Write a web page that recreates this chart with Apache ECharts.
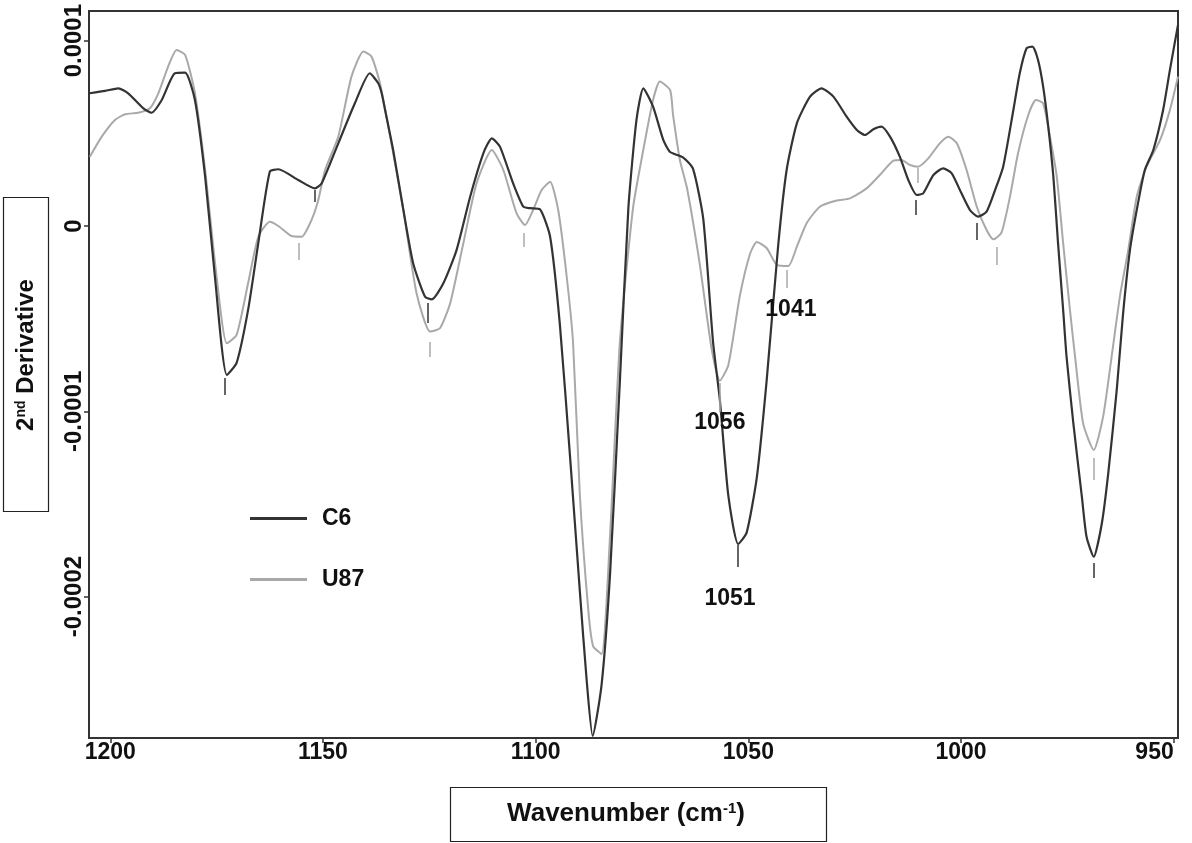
<!DOCTYPE html>
<html>
<head>
<meta charset="utf-8">
<title>2nd derivative spectra C6 / U87</title>
<script src="https://cdn.jsdelivr.net/npm/echarts@6/dist/echarts.min.js"></script>
<style>
  html, body { margin: 0; padding: 0; background: #fff; }
  #container { width: 1192px; height: 843px; }
</style>
</head>
<body>
<div id="container"></div>
<script>
// values are in units of 1e-4 (2nd derivative), wavenumber in cm-1

const c6Wave = [
  1204.8, 1201.2, 1198.1, 1195.8, 1192.2, 1190.3, 1187.9, 1184.8, 1182.4, 1180.1,
  1177.7, 1175.4, 1172.6, 1170.3, 1167.6, 1165.2, 1162.5, 1160.5, 1155.8, 1151.9,
  1150.3, 1146.4, 1142.5, 1139.0, 1137.0, 1136.2, 1135.4, 1133.5, 1131.1, 1128.8,
  1126.0, 1124.4, 1121.7, 1118.6, 1115.4, 1112.3, 1110.3, 1108.4, 1105.3, 1102.9,
  1101.3, 1099.0, 1096.6, 1094.3, 1091.9, 1089.6, 1088.0, 1086.6, 1084.5, 1082.5,
  1080.2, 1078.2, 1076.3, 1074.7, 1072.4, 1070.0, 1068.4, 1065.3, 1063.0, 1060.6,
  1058.3, 1056.7, 1054.7, 1052.4, 1050.4, 1048.0, 1045.7, 1043.0, 1041.0, 1038.6,
  1035.5, 1032.8, 1030.0, 1026.9, 1024.5, 1022.6, 1020.6, 1018.7, 1016.7, 1014.4,
  1012.4, 1010.4, 1008.9, 1006.5, 1004.2, 1002.2, 999.9, 997.9, 996.0, 994.0,
  992.0, 990.1, 987.7, 986.2, 984.6, 983.2, 981.9, 980.7, 979.5, 978.3,
  977.2, 976.0, 975.2, 973.6, 971.6, 970.5, 968.8, 966.9, 965.4, 963.4,
  961.9, 960.3, 958.7, 956.8, 954.8, 952.5, 950.9, 949.0
];
const c6Value = [
  0.716, 0.729, 0.743, 0.716, 0.635, 0.611, 0.680, 0.824, 0.827, 0.680,
  0.266, -0.274, -0.804, -0.739, -0.453, -0.092, 0.293, 0.306, 0.248, 0.203,
  0.230, 0.446, 0.662, 0.824, 0.770, 0.716, 0.626, 0.410, 0.086, -0.201,
  -0.382, -0.396, -0.309, -0.130, 0.158, 0.392, 0.473, 0.428, 0.230, 0.104,
  0.096, 0.090, -0.058, -0.534, -1.250, -1.975, -2.454, -2.752, -2.475, -1.873,
  -0.835, 0.099, 0.572, 0.743, 0.644, 0.464, 0.399, 0.369, 0.308, 0.038,
  -0.626, -0.939, -1.457, -1.716, -1.655, -1.355, -0.835, -0.108, 0.302, 0.554,
  0.698, 0.743, 0.698, 0.590, 0.518, 0.491, 0.522, 0.536, 0.482, 0.374,
  0.248, 0.167, 0.176, 0.275, 0.311, 0.284, 0.176, 0.086, 0.050, 0.077,
  0.194, 0.320, 0.626, 0.824, 0.959, 0.968, 0.896, 0.752, 0.536, 0.266,
  -0.093, -0.453, -0.705, -1.065, -1.461, -1.677, -1.785, -1.604, -1.335, -0.885,
  -0.470, -0.130, 0.086, 0.302, 0.410, 0.626, 0.842, 1.085
];

const u87Wave = [
  1204.8, 1202.0, 1198.9, 1196.5, 1193.4, 1190.7, 1188.7, 1186.4, 1184.4, 1182.4,
  1180.1, 1177.7, 1175.0, 1172.6, 1170.3, 1167.6, 1165.2, 1162.5, 1160.5, 1157.4,
  1155.0, 1152.7, 1151.1, 1149.5, 1146.4, 1143.3, 1140.5, 1138.6, 1136.6, 1134.2,
  1131.1, 1128.0, 1124.8, 1122.5, 1120.1, 1117.0, 1113.9, 1110.3, 1107.6, 1104.5,
  1102.5, 1100.6, 1098.6, 1096.6, 1094.7, 1092.7, 1091.2, 1089.6, 1087.6, 1086.5,
  1084.5, 1082.5, 1080.2, 1077.1, 1074.7, 1072.4, 1070.8, 1068.4, 1067.7, 1066.1,
  1064.4, 1061.4, 1058.6, 1056.7, 1054.7, 1052.0, 1049.6, 1048.0, 1045.7, 1043.3,
  1040.6, 1038.6, 1036.3, 1033.2, 1029.2, 1026.1, 1022.2, 1019.1, 1015.9, 1014.0,
  1012.0, 1010.1, 1007.7, 1005.0, 1003.0, 1001.0, 998.7, 996.3, 994.0, 992.4,
  990.5, 988.5, 986.6, 984.2, 982.4, 980.7, 979.1, 977.5, 976.0, 974.4,
  973.2, 971.3, 968.8, 966.6, 964.6, 962.6, 960.7, 958.7, 956.4, 953.2,
  950.9, 949.0
];
const u87Value = [
  0.374, 0.482, 0.572, 0.603, 0.611, 0.635, 0.716, 0.860, 0.950, 0.923,
  0.716, 0.302, -0.274, -0.633, -0.588, -0.309, -0.058, 0.023, 0.000, -0.054,
  -0.058, 0.032, 0.140, 0.302, 0.482, 0.806, 0.941, 0.914, 0.770, 0.482,
  0.086, -0.363, -0.570, -0.552, -0.417, -0.093, 0.230, 0.410, 0.302, 0.069,
  0.005, 0.086, 0.194, 0.239, 0.086, -0.274, -0.633, -1.457, -2.080, -2.267,
  -2.310, -1.665, -0.626, 0.099, 0.410, 0.680, 0.779, 0.734, 0.599, 0.356,
  0.202, -0.210, -0.669, -0.835, -0.750, -0.378, -0.150, -0.086, -0.119, -0.210,
  -0.216, -0.112, 0.015, 0.104, 0.137, 0.149, 0.203, 0.275, 0.352, 0.356,
  0.329, 0.320, 0.365, 0.446, 0.482, 0.446, 0.302, 0.104, -0.022, -0.072,
  -0.036, 0.158, 0.392, 0.599, 0.680, 0.662, 0.482, 0.266, -0.093, -0.453,
  -0.705, -1.065, -1.209, -1.029, -0.705, -0.372, -0.130, 0.158, 0.320, 0.464,
  0.626, 0.806
];

// short vertical peak markers (wavenumber, top, bottom)
const c6MarkWave   = [1173.0, 1151.9, 1125.3, 1052.4, 1010.6, 996.3, 968.8];
const c6MarkTop    = [-0.820, 0.194, -0.416, -1.722, 0.140, 0.016, -1.819];
const c6MarkBottom = [-0.912, 0.130, -0.523, -1.840, 0.059, -0.076, -1.900];

const u87MarkWave   = [1155.6, 1124.8, 1102.7, 1056.7, 1040.9, 1010.1, 991.6, 968.8];
const u87MarkTop    = [-0.092, -0.626, -0.038, -0.847, -0.237, 0.313, -0.113, -1.252];
const u87MarkBottom = [-0.183, -0.707, -0.113, -1.004, -0.335, 0.232, -0.210, -1.371];

// peak annotations
const peakText  = ['1056', '1041', '1051'];
const peakWave  = [1056.7, 1040.0, 1054.3];
const peakValue = [-1.06, -0.45, -2.01];

const xTicks = [950, 1000, 1050, 1100, 1150, 1200];
const yTicks = [-2, -1, 0, 1];

const darkColor  = '#333333';
const lightColor = '#a9a9a9';
const fontFam = '"Liberation Sans", Arial, sans-serif';


function zipPoints(xs, ys) {
    return xs.map((x, i) => [x, ys[i]]);
}

function markPairs(ws, tops, bottoms) {
    return ws.map((w, i) => [
        { coord: [w, tops[i]] },
        { coord: [w, bottoms[i]] }
    ]);
}


let option = {
    animation: false,
    backgroundColor: '#ffffff',

    grid: {
        left: 89,
        top: 11,
        right: 14,
        bottom: 105,
        containLabel: false,
        outerBoundsMode: 'none',
        show: true,
        borderColor: darkColor,
        borderWidth: 2
    },

    legend: {
        data: ['C6', 'U87'],
        orient: 'vertical',
        left: 245,
        top: 502,
        itemWidth: 57,
        itemHeight: 3,
        itemGap: 38,
        icon: 'rect',
        textStyle: {
            fontFamily: fontFam,
            fontWeight: 'bold',
            fontSize: 23,
            color: '#111',
            padding: [0, 0, 0, 10]
        }
    },

    xAxis: {
        type: 'value',
        inverse: true,
        min: 949,
        max: 1205,
        axisLine: { show: true, onZero: false, lineStyle: { color: darkColor, width: 2 } },
        axisTick: { show: true, length: 5, customValues: xTicks, lineStyle: { color: darkColor, width: 1.5 } },
        axisLabel: {
            customValues: xTicks,
            alignMinLabel: 'right',
            margin: 3,
            fontFamily: fontFam,
            fontWeight: 'bold',
            fontSize: 23,
            color: '#111',
            formatter: function (v) { return String(v); }
        },
        splitLine: { show: false }
    },

    yAxis: {
        type: 'value',
        min: -2.763,
        max: 1.16,
        axisLine: { show: true, onZero: false, lineStyle: { color: darkColor, width: 2 } },
        axisTick: { show: true, length: 5, customValues: yTicks, lineStyle: { color: darkColor, width: 1.5 } },
        axisLabel: {
            customValues: yTicks,
            rotate: 90,
            margin: 3,
            fontFamily: fontFam,
            fontWeight: 'bold',
            fontSize: 24,
            color: '#111',
            formatter: function (v) {
                return v === 0 ? '0' : (v / 10000).toFixed(4);
            }
        },
        splitLine: { show: false }
    },

    series: [
        {
            name: 'U87',
            type: 'line',
            smooth: 0.2,
            symbol: 'none',
            z: 2,
            lineStyle: { color: lightColor, width: 2 },
            itemStyle: { color: lightColor },
            data: zipPoints(u87Wave, u87Value),
            markLine: {
                silent: true,
                symbol: ['none', 'none'],
                label: { show: false },
                lineStyle: { color: lightColor, width: 1.5, type: 'solid' },
                data: markPairs(u87MarkWave, u87MarkTop, u87MarkBottom)
            }
        },
        {
            name: 'C6',
            type: 'line',
            smooth: 0.2,
            symbol: 'none',
            z: 3,
            lineStyle: { color: darkColor, width: 2.2 },
            itemStyle: { color: darkColor },
            data: zipPoints(c6Wave, c6Value),
            markLine: {
                silent: true,
                symbol: ['none', 'none'],
                label: { show: false },
                lineStyle: { color: darkColor, width: 1.5, type: 'solid' },
                data: markPairs(c6MarkWave, c6MarkTop, c6MarkBottom)
            },
            markPoint: {
                silent: true,
                symbol: 'circle',
                symbolSize: 1,
                itemStyle: { color: 'rgba(0,0,0,0)' },
                label: {
                    show: true,
                    position: 'inside',
                    fontFamily: fontFam,
                    fontWeight: 'bold',
                    fontSize: 23,
                    color: '#111',
                    formatter: function (p) { return p.name; }
                },
                data: peakText.map((t, i) => ({ name: t, coord: [peakWave[i], peakValue[i]] }))
            }
        }
    ],

    graphic: [
        {
            type: 'rect',
            shape: { x: 3.5, y: 197.5, width: 45, height: 314 },
            style: { fill: '#fff', stroke: '#222', lineWidth: 1.2 }
        },
        {
            type: 'text',
            x: 26,
            y: 355,
            rotation: Math.PI / 2,
            style: {
                text: '{b|2}{s|nd}{b| Derivative}',
                align: 'center',
                verticalAlign: 'middle',
                rich: {
                    b: { fontFamily: fontFam, fontWeight: 'bold', fontSize: 24, fill: '#111' },
                    s: { fontFamily: fontFam, fontWeight: 'bold', fontSize: 14, fill: '#111', verticalAlign: 'top' }
                }
            }
        },
        {
            type: 'rect',
            shape: { x: 450.5, y: 787.5, width: 376, height: 54 },
            style: { fill: '#fff', stroke: '#222', lineWidth: 1.2 }
        },
        {
            type: 'text',
            x: 626,
            y: 814,
            style: {
                text: '{b|Wavenumber (cm}{s|-1}{b|)}',
                align: 'center',
                verticalAlign: 'middle',
                rich: {
                    b: { fontFamily: fontFam, fontWeight: 'bold', fontSize: 26, fill: '#111' },
                    s: { fontFamily: fontFam, fontWeight: 'bold', fontSize: 15, fill: '#111', verticalAlign: 'top' }
                }
            }
        }
    ]
};


let chartDom = document.getElementById('container');
let chrt = echarts.init(chartDom);
chrt.setOption(option);
</script>
</body>
</html>
